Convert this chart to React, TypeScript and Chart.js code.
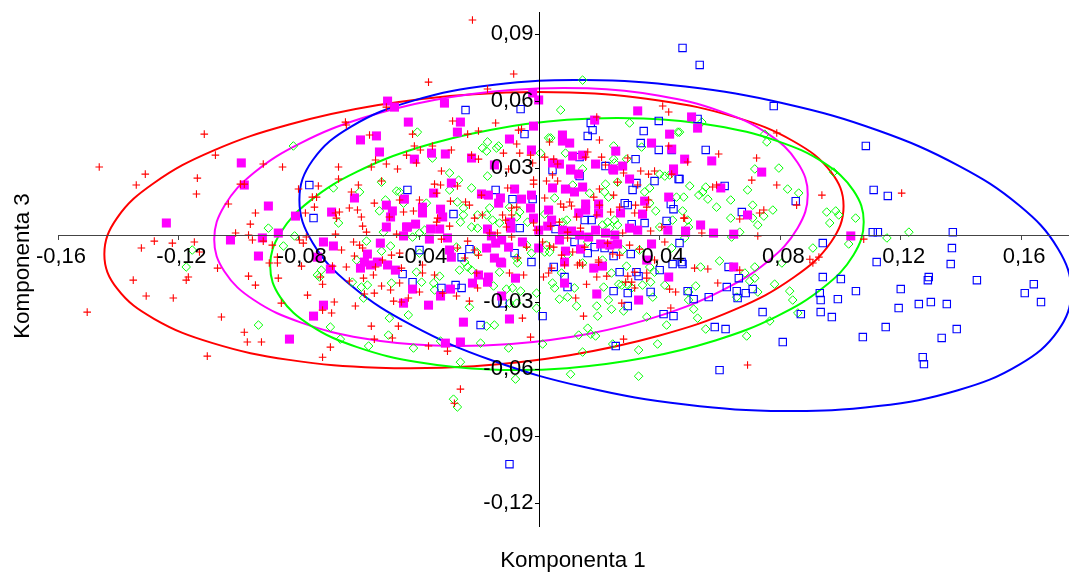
import React, { useEffect, useRef } from "react";
import { Chart, registerables } from "chart.js";

Chart.register(...registerables);

// All readings are in thousandths of the axis unit: [Komponenta 1, Komponenta 3]
const bluePoints: number[][] = [
[94.1,-3.6],[137,-5.8],[136.6,-13],[112,-12.1],[137.3,1.3],[112.4,1.3],[110.7,1.3],[94.1,-18.8],[100.1,-19.7],[129.3,-18.8],[129,-20.2],[145.3,-20.2],[164.2,-22],[161.2,-26],[166.6,-30],[93.1,-26],[93.4,-29.1],[99.1,-28.7],[105.1,-25.1],[120,-24.2],[119.3,-32.7],[126,-30.9],[130,-30],[135.3,-30.9],[93.4,-34.5],[97.1,-36.7],[86.8,-35.4],[80.8,-47.9],[115,-41.2],[107.4,-45.7],[133.6,-46.1],[138.6,-42.1],[127.3,-54.7],[127.7,-57.8],
[47.5,83.8],[53.2,76.2],[77.8,57.8],[108.4,39.9],[111,20.2],[115.7,17.5],[52.5,52],[55.2,38.1],[46.5,25.1],[61.5,22],[85.1,15.2],[67.2,10.3],[-76.5,22.4],[-75.1,7.6],[-43.9,20.2],[-24.6,56],[-6.3,56.4],[-5,45.2],[39.6,51.1],[17,50.2],[17.6,47],[16,44.4],[34.6,46.6],[33.6,41.2],[39.6,38.1],[31.9,34],[43.9,38.1],[13.3,34.9],[21.9,30.9],[4.3,29.1],
[-14.6,20.2],[-9,16.1],[-2.3,16.1],[-28.6,9.4],[-6.6,3.1],[-39.9,-6.7],[-23.3,-6.3],[-25.9,-9.9],[-8.3,-8.1],[-2.7,-12.1],[13.3,26.4],[38.2,24.2],[46.2,25.1],[30.9,20.2],[32.2,23.3],[43.6,13.9],[44.5,11.6],[28.3,14.3],[29.3,13.4],[42.2,6.3],[34.9,5.4],[30.6,4.9],[15,6.7],[17.3,6.7],[5.3,2.7],[46.5,-3.6],[11.6,-3.1],[18.3,-5.4],[16,-8.1],[21.6,-5.8],[24.6,-9.4],[30.3,-8.5],[47.2,-12.1],
[4.7,-14.3],[8.3,-18.8],[9.3,-23.3],[1,-36.3],[24.6,-25.1],[29.3,-26],[29.3,-31.8],[36.9,-25.5],[26.6,-16.6],[32.2,-16.6],[32.9,-18.4],[39.9,-15.7],[44.2,-13],[47.5,-13],[49.2,-25.1],[51.2,-28.7],[56.2,-27.8],[62.2,-23.3],[65.5,-25.1],[68.5,-26],[70.8,-24.2],[66.2,-19.3],[62.8,-14.3],[65.8,-28.2],[41.2,-35.4],[44.5,-36.3],[58.2,-41.2],[61.8,-42.1],[25.3,-49.7],[74.1,-34.5],[59.8,-60.5],[-45.5,-17.5],[-42.2,-21.1],[-32.6,-23.7],[-27.9,-22.4],[-25.9,-23.7],[-19.6,-40.3],[-12.3,-30.5],[-10,-102.6],
];

const magentaPoints: number[][] = [
[-99.1,32.3],[-90.1,13],[-124,5.4],[-86.8,0.9],[-92.1,-1.3],[-102.7,-2.2],[-93.4,-9.4],[-83.1,-46.6],[-50.5,60],[-48.2,57.3],[-43.6,50.6],[-59.5,42.6],[-54.2,44.4],[-53.2,37.2],[-31.6,59.1],[-2.3,63.6],[-0.3,60.5],[-26.3,50.6],[-27.3,46.1],[-2,48.8],[-10,43],[-35.9,36.7],[-31.3,36.3],[-41.6,34],[-22.6,34.5],[-2.7,38.1],[-15,31.4],[32.6,55.6],[7.6,44.8],[7.6,42.1],[10,41.2],[18.3,51.5],[43.2,45.2],[37.2,41.2],[25.3,37.6],[43.9,38.5],[11,35.4],[14.3,35.8],[4.3,32.3],[6.6,31.8],[18.6,31.8],[27.6,30.9],[24.3,29.6],[10.3,29.6],[48.2,34],[44.5,29.6],[50.5,52.9],[52.5,47.9],[57.2,33.2],[73.8,28.2],[60.2,21.1],[69.1,9],[53.5,4.5],[48.5,1.3],[57.8,0.9],[64.5,0.4],[103.4,-0.4],
[-61.5,16.6],[-81.1,8.5],[-69.1,10.3],[-44.9,16.1],[-50.9,13.4],[-48.9,10.8],[-49.5,8.1],[-50.9,3.6],[-44.2,3.6],[-45.2,-0.4],[-71.8,-3.1],[-68.5,-4.9],[-52.9,-3.6],[-57.2,-8.5],[-73.8,-9.9],[-58.2,-12.1],[-53.9,-12.1],[-29.3,23.3],[-35.2,18.8],[-8.3,20.6],[-19.3,18.4],[-17,17.9],[-13,16.6],[-13.6,14.3],[-6,16.1],[-2.7,17.9],[-38.9,12.5],[-38.9,9.9],[-32.9,11.6],[-32.2,8.1],[-3,12.1],[-2,7.6],[-9.6,5.8],[-9.6,3.1],[-41.2,4.9],[-43.9,3.6],[-36.2,2.7],[-33.2,2.7],[-17.3,2.7],[-0.3,2.2],[-36.6,-1.8],[-30.6,-1.3],[-16,-0.4],[-14.6,-3.6],[-12.6,-2.2],[-10.3,-5.4],[-5.7,-3.1],[-0.3,-5.8],[-17.6,-5.8],[-29.9,-6.7],[-29.3,-9.9],[-15,-10.3],[-13,-12.1],
[10.3,29.1],[13,27.3],[24.6,29.1],[44.5,28.7],[29.9,25.1],[4.3,21.1],[8.6,20.6],[11.6,19.3],[14.3,21.5],[42.9,17],[3,11.2],[15.3,13.9],[19.6,13.9],[13,9.9],[19.6,9.9],[15.3,11.2],[26.9,9.9],[34.9,15.2],[34.2,9.4],[4,6.7],[2.7,4],[10.6,1.8],[7.6,2.2],[18.6,2.2],[21.9,0.9],[25,0],[16.3,-0.9],[29.9,3.1],[32.6,2.2],[42.6,2.2],[48.5,1.8],[6.6,-2.2],[13.3,0],[20.3,-4],[23.3,-4.5],[25.9,-4],[13.6,-6.3],[8.6,-7.2],[37.2,-4],[8.3,-12.1],[35.6,-11.2],
[-69.5,-15.2],[-59.5,-14.8],[-56.2,-13.4],[-50.5,-13.4],[-47.9,-15.7],[-42.2,-24.2],[-20.3,-17.9],[-17,-18.8],[-22.3,-21.5],[-17.3,-21.1],[-8,-19.3],[-12.6,-12.5],[-29.6,-24.2],[-32.9,-27.3],[-12.6,-27.3],[-71.8,-31.4],[-45.2,-30.5],[-36.9,-31.4],[-10,-37.6],[-25.3,-39],[-75.1,-36.3],[-31.3,-48.4],[-26.3,-47.9],[18,-14.8],[20.9,-13.9],[8.3,-21.5],[42.9,-18.8],[19,-26.4],[32.9,-29.1],[64.5,-14.3],[-98.1,22.4],
];

const greenPoints: number[][] = [
[-90.1,3.1],[-115.4,-6.7],[-117.4,-14.3],[-85.1,-4.9],[-93.4,-40.3],[-81.8,39.9],[-40.6,46.1],[-35.6,34.5],[-17.3,41.7],[-19,39],[-17.6,37.6],[-13.6,39.9],[-14.3,39],[0.3,36.7],[3,43.5],[14.3,69.4],[7,56],[29.9,50.2],[45.9,46.1],[3.7,43.5],[24.6,39.9],[8.6,36.7],[33.9,39.4],[24.6,34],[28.9,34],[24.9,32.3],[14.3,29.6],[53.9,50.6],[74.8,45.2],[75.5,41.7],[97.7,28.2],[71.5,29.6],[79.5,30],[49.9,22],[55.2,21.5],[54.2,19.3],[52.9,17.9],[55.9,16.1],[47.9,17],[63.5,15.7],[82.4,20.6],[69.1,20.2],[86.1,18.8],[70.8,13.4],[58.8,12.5],[77.5,11.2],[95.4,10.3],[98.4,10.8],[99.4,9],[105,7.6],[96.4,5.4],[63.5,7.6],[74.5,8.5],[72.5,4.5],[47.5,10.8],[49.2,6.7],[49.5,3.6],[70.8,7.6],[66.5,1.3],[63.8,-0.9],[46.5,46.1],
[-68.5,21.1],[-59.8,19.3],[-52.5,23.7],[-47.5,19.7],[-51.2,15.7],[-45.2,14.3],[-53.2,10.8],[-66.8,5.4],[-81.4,-0.4],[-51.9,1.3],[-57.5,-2.7],[-49.5,-4.9],[-52.5,-7.2],[-60.8,-11.2],[-29.9,27.8],[-26.9,24.6],[-29.9,20.2],[-22.6,21.1],[-17.3,26.4],[-46.5,19.3],[-37.6,14.3],[-27.3,14.8],[-25.3,12.1],[-25.3,9],[-26.3,5.8],[-22.6,3.6],[-16.6,12.1],[-15.6,6.7],[-17.6,9],[-20.6,9],[-39.9,0.9],[-42.2,-0.9],[-38.2,2.2],[-20.6,3.1],[-7.6,8.1],[-6.6,10.3],[-4,5.8],[-4.3,-4.5],[-2.7,-8.1],[-27.6,-5.4],[-20.9,-7.6],[-39.9,-8.1],[-7.6,-10.3],[-24.9,-12.1],[-10,12.5],[-13.3,5.4],
[11,22.4],[16.6,18.8],[21.9,22.8],[21.6,19.3],[22.9,17],[5,16.6],[34.9,19.3],[39.9,27.3],[41.6,26.4],[25.9,23.7],[36.6,21.1],[43.2,26.9],[45.5,17],[38.6,10.8],[22.6,5.8],[24.9,6.7],[25.9,4.5],[23.3,3.1],[20.9,4.5],[36.6,14.3],[39.9,3.6],[9,6.7],[7.6,5.8],[1.7,9.4],[44.2,6.7],[48.2,-1.3],[2.3,-4.5],[3.3,-7.6],[9.3,-9],[16,-3.1],[43.9,-5.8],[33.2,-6.7],[27.6,-6.7],[20.9,-11.2],[1.7,-7.6],
[-72.5,-15.7],[-73.8,-17.9],[-73.1,-18.8],[-62.2,-21.1],[-59.2,-23.3],[-57.2,-22.4],[-58.5,-28.2],[-49.9,-37.2],[-43.6,-35.8],[-69.5,-41.2],[-66.2,-46.6],[-56.8,-49.7],[-50.2,-44.8],[-41.9,-50.6],[-26.3,-56.9],[-32.9,-47.5],[-19.6,-48.4],[-10.3,-50.6],[-8,-64.5],[-23.3,-32.3],[-17.6,-40.8],[-15,-40.3],[-34.9,-24.6],[-35.2,-21.5],[-33.2,-18.4],[-40.9,-16.6],[-39.2,-21.1],[-26.6,-15.7],[-23.9,-14.3],[-22.6,-15.7],[-15.3,-22.8],[-13.3,-16.6],[-11,-24.2],[-9,-23.7],[-6.3,-25.1],[-7.6,-30.5],[-1,-26],[-10,-30.5],[-1,-32.7],[-49.2,-21.5],[-7.3,-12.5],
[4.3,-21.5],[5,-23.7],[6.6,-28.7],[9.3,-27.8],[11.6,-23.7],[12.3,-31.8],[19,-31.8],[19.3,-36.3],[22.9,-29.1],[23.9,-33.2],[27.9,-34],[21.3,-23.3],[14.3,-12.5],[7.3,-17],[16,-41.7],[13,-44.8],[17,-44.4],[18.6,-45.2],[1,-48.8],[24.3,-48.8],[14.3,-52.4],[32.9,-51.5],[39.2,-48.8],[10.3,-62.3],[32.9,-63.2],[35.6,-36.7],[42.2,-40.3],[52.5,-37.2],[51.2,-33.2],[49.5,-29.1],[37.6,-27.8],[34.2,-22.4],[36.9,-21.1],[41.6,-22.4],[51.9,-22.8],[49.5,-25.5],[55.2,-42.1],[68.8,-45.2],[76.5,-38.5],[85.8,-34.9],[84.1,-29.1],[83.1,-25.1],[78.1,-22],[72.5,-25.5],[71.5,-19.3],[69.8,-20.6],[68.2,-17],[71.5,-14.3],[80.5,-12.5],[65.5,-27.8],[59.8,-11.6],[53.5,-14.3],[27.3,-22.4],[29.3,-22.4],[26.3,-22],[30.6,-23.7],[36.6,-14.3],[38.2,-16.6],[28.9,-13.9],[23.9,-17],[90.8,-5.8],[102.7,-4],[115.4,-1.3],[122.7,1.3],[-28.6,-73.5],[-27.3,-77],
];

const redPoints: number[][] = [
[-111.4,45.2],[-146.3,30.5],[-131,27.3],[-134,22.4],[-107.7,35.8],[-113.7,25.5],[-114,18.4],[-91.8,31.8],[-85.4,30.5],[-99.4,22.8],[-98.1,22.8],[-103.4,13.9],[-94.4,9.9],[-96.1,4.9],[-101,0.9],[-96.7,0],[-128,-2.7],[-132.3,-5.8],[-122,-3.6],[-114.7,-3.1],[-113,-7.6],[-116.7,-18.8],[-117.4,-20.2],[-135,-20.2],[-130.7,-27.3],[-121.7,-28.2],[-150.3,-34.5],[-107,-14.8],[-105.7,-36.7],[-96.7,-18.4],[-94.4,-22.4],[-85.8,-30.5],[-98.1,-43.5],[-97.1,-47.9],[-92.4,-47.9],[-110.4,-54.2],[-95.4,-2.2],[-91.8,-2.7],[-88.8,-4.5],[-87.1,-9.9],[-89.8,-12.5],[-87.1,-12.5],[-86.8,-19.3],
[-64.5,50.6],[-64.2,49.3],[-50.9,57.3],[-56.5,44.8],[-66.8,30.5],[-54.5,33.6],[-55.9,30.5],[-50.9,31.8],[-44.2,35.8],[-47.2,29.6],[-36.9,68.5],[-8.6,72.1],[-17.3,65.4],[-28.9,51.1],[-42.2,45.2],[-14.6,50.2],[-20.3,46.6],[-23.9,45.2],[-6,47.5],[-7,47],[-35.6,39.9],[-41.6,39.9],[-39.6,38.1],[-29.3,38.1],[-7.6,40.8],[-12,36.7],[-6.6,36.7],[-22.6,35.8],[-20.3,34],[-40.9,32.3],[-3,35.8],[1.7,34.9],[-10.3,29.6],[-2.3,32.3],[-22.3,96.3],
[40.9,57.8],[42.9,55.1],[19,52.9],[19.9,42.6],[3.3,41.7],[42.9,39.9],[16,37.2],[15.3,34.9],[20.6,34.9],[29.3,34.5],[4.7,34],[6,31.8],[21.9,31.4],[49.2,32.7],[78.8,45.7],[59.5,36.3],[72.1,34.5],[70.5,24.6],[78.8,22.4],[57.5,21.5],[58.8,22.4],[93.8,17.9],[85.4,13.4],[48.2,7.6],[66.5,7.2],[73.1,9.9],[74.5,11.2],[53.9,0.9],[72.5,-0.4],[107.7,-1.8],
[-66.8,25.1],[-52.5,24.2],[-80.1,20.6],[-73.5,22],[-75.5,17],[-74.1,17],[-74.8,12.5],[-60.2,22.4],[-62.5,19.3],[-54.9,14.3],[-63.2,12.1],[-60.5,11.2],[-66.5,10.3],[-67.8,9.9],[-59.2,8.1],[-77.8,9.9],[-67.5,7.6],[-46.5,15.7],[-49.9,8.1],[-58.8,4],[-57.5,1.3],[-67.8,0.4],[-47.5,0.4],[-77.5,-0.9],[-79.8,-2.2],[-78.5,-3.6],[-61.8,-3.1],[-59.8,-4.5],[-58.8,-5.8],[-65.8,-6.7],[-61.5,-9.4],[-49.2,-9],[-46.5,-8.1],[-52.2,-11.2],
[-32.6,28.7],[-34.9,22.8],[-32.9,22.4],[-27.3,22],[-34.2,18.8],[-39.9,15.7],[-29.6,15.2],[-24.6,14.8],[-23.3,13.4],[-45.2,10.3],[-41.9,10.8],[-19.3,17.9],[-10.6,21.1],[-2,24.6],[-2,22.8],[2.3,24.2],[1.7,16.6],[-7.6,12.5],[-9.3,12.1],[-19,9],[-21.6,7.6],[-33.9,7.6],[-34.2,5.8],[-29.9,4],[-12.3,9],[-9.3,9],[-11.3,6.7],[-11,3.6],[-2,5.4],[-1,2.2],[-16.6,0.9],[-14,0.9],[-9.3,-0.9],[-32.6,-1.8],[-23.9,-2.7],[-21.6,-6.7],[-27.3,-5.8],[-4.3,-5.4],[-7.3,-10.3],[-24.9,-10.3],[-20.3,-9],
[4.3,26.9],[6,24.2],[27.9,27.8],[33.6,28.7],[38.2,28.7],[36.2,27.3],[43.9,27.3],[25.9,23.7],[32.6,22.4],[19.9,20.6],[24.6,17.9],[18,17],[10,14.8],[7,13.9],[8,12.5],[10.6,13],[19.9,13.4],[36.2,15.7],[35.6,12.5],[31.9,13.4],[26.6,12.5],[23.6,10.3],[31.6,9.9],[19,9],[12.3,8.1],[47.9,7.6],[6.6,5.8],[3.7,4],[13.6,3.1],[40.6,3.6],[36.9,1.8],[9.3,1.3],[27.6,0.9],[9.3,-1.3],[41.6,-3.1],[1,-3.1],[3.3,-4.9],[4.7,-5.4],[15,-5.4],[22.6,-3.6],[29.9,-4.5],[11,-7.6],[7.3,-9],[24.3,-8.5],[26.6,-9],[19.6,-11.2],[38.2,-11.2],[33.2,-6.3],[13.3,-12.5],
[-79.1,-13.9],[-64.2,-14.3],[-68.8,-13.9],[-72.8,-18.8],[-72.1,-22],[-58.5,-19.3],[-63.2,-20.6],[-55.2,-17.9],[-54.5,-14.3],[-45.9,-14.8],[-46.5,-21.5],[-52.5,-22.8],[-58.2,-26.4],[-54.9,-26],[-49.5,-24.6],[-77.1,-26.9],[-68.2,-30],[-72.1,-33.6],[-69.1,-34.9],[-61.2,-31.8],[-48.5,-29.6],[-45.9,-30],[-43.6,-28.2],[-39.9,-25.5],[-38.9,-17],[-34.9,-17.9],[-38.9,-13.4],[-32.2,-26],[-27.6,-27.3],[-23.3,-29.6],[-20.9,-17],[-20.6,-23.7],[-10,-17],[-5.3,-17.9],[-5.7,-37.2],[-3,-45.7],[-55.9,-40.8],[-46.9,-40.8],[-54.9,-46.6],[-48.9,-46.1],[-36.9,-49.7],[-30.6,-52],[-69.5,-50.2],[-72.1,-54.7],[-26.3,-69],[-28.3,-75.3],
[1.3,-18.8],[3,-17],[4,-14.8],[8.3,-13.4],[12.6,-13.4],[14.3,-13.4],[19,-18.8],[22.3,-18.4],[15.6,-22],[12,-28.2],[14.6,-36.3],[27.3,-30.5],[27.9,-46.6],[29.3,-18.4],[28.6,-21.1],[30.6,-21.1],[31.6,-23.7],[31.6,-16.6],[35.6,-17],[35.6,-19.3],[43.2,-24.2],[45.2,-25.5],[43.6,-32.7],[51.5,-14.8],[55.9,-15.2],[59.2,-21.5],[66.5,-15.7],[69.1,-58.2],[19.6,-12.1],[92.8,-9.9],[89.8,-10.8],[90.8,-12.5],[120.3,18.8],
];

// Outlines, point by point round each ring.
const redRing: number[][] = [
[101,13],[96.8,-3.2],[84.5,-18.9],[65,-33.3],[39.6,-45.1],[10,-53.8],[-21.8,-58.7],[-53.6,-59.4],[-83.2,-55.9],[-108.6,-48.4],[-128.1,-37.5],[-140.4,-23.9],[-144.6,-8.6],[-140.4,7.6],[-128.1,23.3],[-108.6,37.7],[-83.2,49.5],[-53.6,58.2],[-21.8,63.1],[10,63.8],[39.6,60.3],[65,52.8],[84.5,41.9],[96.8,28.3],
];
const magentaRing: number[][] = [
[89.1,18.2],[85.7,3.1],[75.9,-11.7],[60.2,-25.1],[39.8,-36.2],[16,-44.3],[-9.5,-48.8],[-35,-49.5],[-58.8,-46.2],[-79.2,-39.2],[-94.9,-29.1],[-104.7,-16.3],[-108.1,-2],[-104.7,13.1],[-94.9,27.9],[-79.2,41.3],[-58.8,52.4],[-35,60.5],[-9.5,65],[16,65.7],[39.8,62.4],[60.2,55.4],[75.9,45.3],[85.7,32.5],
];
const greenRing: number[][] = [
[107.7,5.8],[104.3,-8.9],[94.5,-23.3],[78.8,-36.4],[58.4,-47.2],[34.6,-55.1],[9.1,-59.6],[-16.4,-60.2],[-40.2,-57],[-60.6,-50.2],[-76.3,-40.3],[-86.1,-27.9],[-89.5,-13.8],[-86.1,0.9],[-76.3,15.3],[-60.6,28.4],[-40.2,39.2],[-16.4,47.1],[9.1,51.6],[34.6,52.2],[58.4,49],[78.8,42.2],[94.5,32.3],[104.3,19.9],
];
const blueRing: number[][] = [
[176.6,-25.2],[172.2,-42.9],[159.4,-58],[139,-69.5],[112.5,-76.6],[81.6,-78.8],[48.4,-75.9],[15.2,-68.2],[-15.7,-56.2],[-42.2,-40.6],[-62.6,-22.6],[-75.4,-3.4],[-79.8,15.8],[-75.4,33.5],[-62.6,48.6],[-42.2,60.1],[-15.7,67.2],[15.2,69.4],[48.4,66.5],[81.6,58.8],[112.5,46.8],[139,31.2],[159.4,13.2],[172.2,-6],
];

const xAxisTitle = "Komponenta 1";
const yAxisTitle = "Komponenta 3";
const RED = "#ff0000";
const MAGENTA = "#ff00ff";
const GREEN = "#00ff00";
const BLUE = "#0000ff";
const FONT = "'Liberation Sans', Arial, sans-serif";

const toXY = (rows: number[][]) => rows.map(([x, y]) => ({ x: x / 1000, y: y / 1000 }));
const commaTick = (v: number | string) => {
  const n = Number(v);
  return Math.abs(n) < 1e-9 ? "" : n.toFixed(2).replace(".", ",");
};
// A trailing space keeps the right-aligned labels of the centred axis clear of its ticks.
const yTick = (v: number | string) => {
  const label = commaTick(v);
  return label ? label + " " : "";
};
const noEdgePadding = (scale: any) => {
  scale.paddingLeft = 0;
  scale.paddingRight = 0;
  scale.paddingTop = 0;
  scale.paddingBottom = 0;
};

export default function App() {
  const ref = useRef<HTMLCanvasElement>(null);
  useEffect(() => {
    const ring = (rows: number[][], color: string, order: number) => ({
      data: toXY(rows), showLine: true, borderColor: color, borderWidth: 2,
      pointRadius: 0, tension: 0.4, fill: false, order,
    });
    const chart = new Chart(ref.current as HTMLCanvasElement, {
      type: "scatter",
      data: {
        datasets: [
          { label: "red", data: toXY(redPoints), pointStyle: "cross", pointRadius: 3.8, pointBorderColor: RED, pointBorderWidth: 1.1, pointBackgroundColor: "transparent", order: 1 },
          { label: "magenta", data: toXY(magentaPoints), pointStyle: "rect", pointRadius: 6.4, pointBorderWidth: 0, pointBorderColor: MAGENTA, pointBackgroundColor: MAGENTA, order: 2 },
          { label: "blue", data: toXY(bluePoints), pointStyle: "rect", pointRadius: 5.2, pointBorderColor: BLUE, pointBorderWidth: 1.1, pointBackgroundColor: "transparent", order: 3 },
          { label: "green", data: toXY(greenPoints), pointStyle: "rectRot", pointRadius: 4.3, pointBorderColor: GREEN, pointBorderWidth: 1, pointBackgroundColor: "transparent", order: 4 },
          ring(blueRing, BLUE, 5),
          ring(greenRing, GREEN, 6),
          ring(magentaRing, MAGENTA, 7),
          ring(redRing, RED, 8),
        ] as any,
      },
      options: {
        responsive: false,
        animation: false,
        layout: { autoPadding: false, padding: { left: 12, right: 0, top: 12, bottom: 0 } },
        plugins: {
          legend: { display: false },
          tooltip: { enabled: false },
          title: {
            display: true, text: xAxisTitle, position: "bottom", fullSize: false, color: "#000",
            font: { family: FONT, size: 22.4, weight: "normal", lineHeight: 1 },
            padding: { top: 23.6, bottom: 0 },
          },
          subtitle: {
            display: true, text: yAxisTitle, position: "left", fullSize: false, color: "#000",
            font: { family: FONT, size: 22.4, weight: "normal", lineHeight: 1 },
            padding: { top: 0, bottom: 23.6 },
          },
        },
        scales: {
          x: {
            type: "linear", min: -0.16, max: 0.1759, position: { y: 0 },
            afterFit: noEdgePadding,
            grid: { drawOnChartArea: false, drawTicks: true, tickLength: 4, color: "#444", z: 1 },
            border: { color: "#444", width: 1, z: 1 },
            ticks: {
              stepSize: 0.04, includeBounds: false, autoSkip: false, maxRotation: 0, padding: 5, labelOffset: 3, z: 1,
              color: "#000", font: { family: FONT, size: 22 }, callback: commaTick,
            },
          },
          y: {
            type: "linear", min: -0.1303, max: 0.0999, position: { x: 0 },
            afterFit: noEdgePadding,
            grid: { drawOnChartArea: false, drawTicks: true, tickLength: 4, color: "#000", z: 1 },
            border: { color: "#000", width: 1, z: 1 },
            ticks: {
              stepSize: 0.03, includeBounds: false, autoSkip: false, padding: 3, z: 1,
              color: "#000", font: { family: FONT, size: 22 }, callback: yTick,
            },
          },
        },
      } as any,
      plugins: [{
        id: "titleNudge",
        afterLayout(c: any) {
          c.titleBlock.left += 9.5;
          c.titleBlock.right += 9.5;
          const side = c.boxes.find((b: any) => b.options && b.options.text === yAxisTitle);
          if (side) { side.top -= 3; side.bottom -= 3; }
        },
      }, {
        id: "closedRings",
        beforeDatasetsDraw(c: any) {
          c.data.datasets.forEach((d: any, i: number) => {
            if (!d.showLine) return;
            const line = c.getDatasetMeta(i).dataset;
            line._loop = true;
            line._fullLoop = true;
            line._pointsUpdated = false;
            line._segments = undefined;
            line._path = undefined;
            line.updateControlPoints(c.chartArea, "x");
          });
        },
      }],
    });
    return () => chart.destroy();
  }, []);
  return <canvas ref={ref} width={1069} height={572} style={{ position: "absolute", left: 0, top: 0, display: "block" }} />;
}
